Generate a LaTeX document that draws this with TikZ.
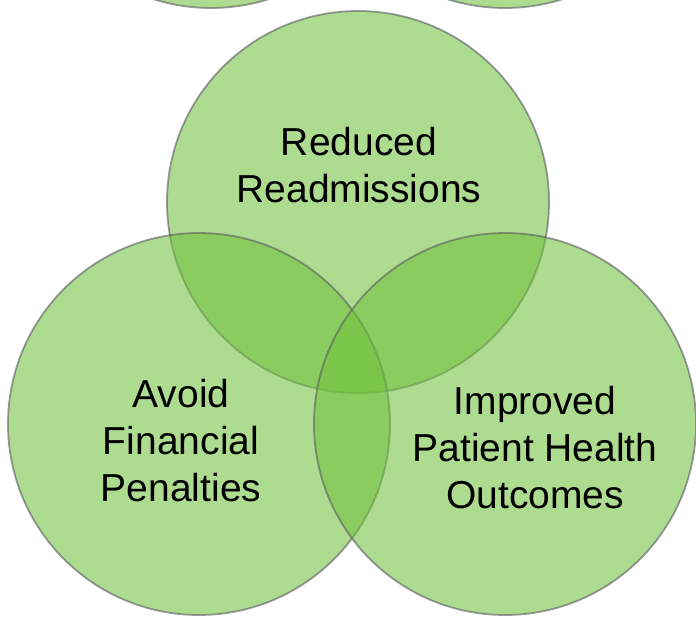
\documentclass[tikz,border=0pt]{standalone}
\usepackage{fontspec}
\setmainfont{Liberation Sans}
\definecolor{vennfill}{RGB}{112,192,60}
\definecolor{vennline}{RGB}{90,90,100}
\tikzset{
  venn/.style={circle, minimum size=382pt, inner sep=0pt, fill=vennfill,
    fill opacity=0.573, draw=vennline, draw opacity=0.6, line width=1.8pt},
  vlabel/.style={font=\fontsize{39}{47}\selectfont, align=center, inner sep=0pt,
    anchor=north, text=black, text opacity=1}
}
\begin{document}
\begin{tikzpicture}[x=1pt,y=-1pt]
\useasboundingbox (0,0) rectangle (696,616);
\clip (0,0) rectangle (696,616);
\node[venn] (ghostL) at (211,-183) {};
\node[venn] (ghostR) at (505,-183) {};
\node[venn] (top) at (358,202) {};
\node[venn] (left) at (199,424) {};
\node[venn] (right) at (505,424) {};
\node[vlabel] (ttop) at (359,127) {Reduced\\Readmissions};
\node[vlabel] (tleft) at (181,379) {Avoid\\Financial\\Penalties};
\node[vlabel] (tright) at (535,386) {Improved\\Patient Health\\Outcomes};
\end{tikzpicture}
\end{document}
